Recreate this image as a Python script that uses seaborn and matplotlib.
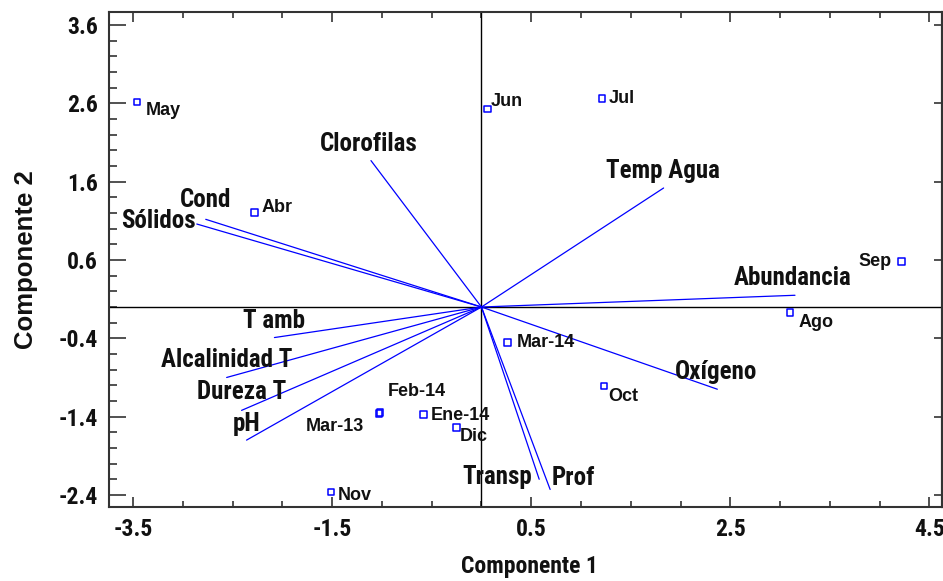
import numpy as np
import pandas as pd
import matplotlib
matplotlib.use("Agg")
import matplotlib.pyplot as plt
from matplotlib import font_manager
from matplotlib.font_manager import FontProperties
from matplotlib.ticker import FixedLocator, MultipleLocator, NullFormatter
import seaborn as sns

# Scores of each sampling month on the first two principal components
meses = ["May", "Abr", "Jun", "Jul", "Sep", "Ago", "Mar-14", "Oct",
         "Nov", "Mar-13", "Feb-14", "Ene-14", "Dic"]
comp1 = [-3.46, -2.28, 0.06, 1.21, 4.22, 3.10, 0.26, 1.23,
         -1.51, -1.03, -1.02, -0.58, -0.25]
comp2 = [2.62, 1.21, 2.53, 2.66, 0.58, -0.07, -0.45, -1.01,
         -2.36, -1.36, -1.345, -1.37, -1.54]

# Loadings of the environmental variables (biplot vectors)
variables = ["Clorofilas", "Temp Agua", "Abundancia", "Oxígeno", "Prof",
             "Transp", "Cond", "Sólidos", "T amb", "Alcalinidad T",
             "Dureza T", "pH"]
carga1 = [-1.11, 1.83, 3.15, 2.37, 0.69, 0.58, -2.77, -2.86, -2.08,
          -2.56, -2.41, -2.36]
carga2 = [1.87, 1.52, 0.15, -1.05, -2.33, -2.20, 1.12, 1.06, -0.39,
          -0.90, -1.32, -1.70]

xticks = [-3.5, -1.5, 0.5, 2.5, 4.5]
yticks = [-2.4, -1.4, -0.4, 0.6, 1.6, 2.6, 3.6]

# label placement, in pixels relative to each mark
off_meses = {
    "May": (9, -9, "left"), "Abr": (7, 5, "left"), "Jun": (3, 7, "left"),
    "Jul": (7, 0, "left"), "Sep": (-10, 0, "right"), "Ago": (9, -10, "left"),
    "Mar-14": (9, 0, "left"), "Oct": (4, -10, "left"), "Nov": (7, -4, "left"),
    "Mar-13": (-15, -13, "right"), "Feb-14": (8, 21, "left"),
    "Ene-14": (7, -1, "left"), "Dic": (3, -9, "left"),
}
off_vars = {
    "Clorofilas": (-2, 17), "Temp Agua": (-1, 17), "Abundancia": (-2, 17),
    "Oxígeno": (-1, 17), "Prof": (23, 11), "Transp": (-42, 2),
    "Cond": (0, 19), "Sólidos": (-38, 3), "T amb": (0, 17),
    "Alcalinidad T": (0, 17), "Dureza T": (0, 18), "pH": (0, 16),
}

sns.set_theme(style="white")
plt.rcParams["font.family"] = ["Liberation Sans", "DejaVu Sans"]


def condensed_bold():
    """Pick an installed bold narrow/condensed sans face, if there is one."""
    prefs = ["liberation sans narrow", "arimo", "roboto condensed",
             "open sans condensed", "noto sans", "dejavu sans"]
    found = []
    for f in font_manager.fontManager.ttflist:
        name = f.name.lower()
        fname = f.fname.lower()
        narrowish = ("narrow" in name or "condensed" in name
                     or "narrow" in fname or "condensed" in fname
                     or f.stretch in ("condensed", "semi-condensed",
                                      "extra-condensed"))
        w = f.weight if isinstance(f.weight, int) else 700 if "bold" in str(f.weight) else 400
        if narrowish and w >= 600 and f.style == "normal" and "mono" not in name \
                and "serif" not in name.replace("sans", ""):
            rank = len(prefs)
            for i, p in enumerate(prefs):
                if name.startswith(p):
                    rank = i
                    break
            semi = "semi" in fname or "semi" in str(f.stretch)
            found.append((rank, semi, abs(w - 700), f.fname))
    if found:
        found.sort()
        return FontProperties(fname=found[0][3])
    return None


cprop = condensed_bold()


def face(size):
    if cprop is not None:
        p = cprop.copy()
        p.set_size(size)
        return p
    return FontProperties(family=["Liberation Sans", "DejaVu Sans"],
                          weight="bold", size=size * 0.84)


fig = plt.figure(figsize=(9.43, 5.81), dpi=100)
W, H = 943, 581
ax = fig.add_axes([109 / W, 1 - 507.3 / H, (942 - 109) / W, (507.3 - 12.3) / H])

# reference axes through the origin
ax.axhline(0, color="black", lw=1.0, zorder=1)
ax.axvline(0, color="black", lw=1.0, zorder=1)

# variable vectors from the origin
vec = pd.DataFrame({
    "variable": np.repeat(variables, 2),
    "x": np.ravel([[0.0, c] for c in carga1]),
    "y": np.ravel([[0.0, c] for c in carga2]),
})
sns.lineplot(data=vec, x="x", y="y", units="variable", estimator=None,
             sort=False, color="#0000ff", lw=0.9, ax=ax, legend=False)

# month scores
pts = pd.DataFrame({"mes": meses, "c1": comp1, "c2": comp2})
sns.scatterplot(data=pts, x="c1", y="c2", marker="s", s=22,
                facecolor="none", edgecolor="#0000ff", linewidth=1.1,
                ax=ax, legend=False, zorder=3)

for m, x, y in zip(meses, comp1, comp2):
    dx, dy, ha = off_meses[m]
    ax.annotate(m, (x, y), xytext=(dx, dy), textcoords="offset pixels",
                ha=ha, va="center", fontsize=13, fontweight="bold",
                family=["Liberation Sans", "DejaVu Sans"], color="#111111")

vprop = face(18)
for v, x, y in zip(variables, carga1, carga2):
    dx, dy = off_vars[v]
    ax.annotate(v, (x, y), xytext=(dx, dy), textcoords="offset pixels",
                ha="center", va="center", fontproperties=vprop,
                color="#111111")

ax.set_xlim(-3.742, 4.627)
ax.set_ylim(-2.558, 3.764)

ax.xaxis.set_major_locator(FixedLocator(xticks))
ax.xaxis.set_minor_locator(MultipleLocator(0.5))
ax.yaxis.set_major_locator(FixedLocator(yticks))
ax.yaxis.set_minor_locator(FixedLocator(np.arange(-2.4, 3.7, 0.2)))
ax.set_xticklabels([f"{t:g}" for t in xticks])
ax.set_yticklabels([f"{t:g}" for t in yticks])

ax.tick_params(axis="x", which="major", direction="in", length=7, width=1.2,
               top=True, bottom=True, pad=8, color="#333333")
ax.tick_params(axis="x", which="minor", direction="in", length=4, width=1.2,
               top=True, bottom=True, color="#333333")
ax.tick_params(axis="y", which="major", direction="in", length=12, width=1.2,
               left=True, right=False, pad=8, color="#333333")
ax.tick_params(axis="y", which="minor", direction="in", length=6, width=1.2,
               left=True, right=False, color="#333333")
tprop = face(17)
for lab in ax.get_xticklabels() + ax.get_yticklabels():
    lab.set_fontproperties(tprop)
    lab.set_color("#111111")

# short major ticks on the right edge
sec = ax.secondary_yaxis("right")
sec.yaxis.set_major_locator(FixedLocator(yticks))
sec.yaxis.set_major_formatter(NullFormatter())
sec.tick_params(axis="y", direction="in", length=6, width=1.2, color="#333333")
sec.spines["right"].set_color("#333333")
sec.spines["right"].set_linewidth(1.5)

for s in ax.spines.values():
    s.set_color("#333333")
    s.set_linewidth(1.5)

ax.set_xlabel("Componente 1", fontproperties=face(17), color="#111111")
ax.xaxis.set_label_coords(0.505, -0.12, transform=ax.transAxes)
ax.xaxis.label.set_va("center")
ax.set_ylabel("Componente 2", fontsize=18.5, fontweight="bold",
              color="#111111", family=["Liberation Sans", "DejaVu Sans"])
ax.yaxis.set_label_coords(-0.1, 0.5, transform=ax.transAxes)
ax.yaxis.label.set_va("center")

fig.savefig("out.png", dpi=100)
